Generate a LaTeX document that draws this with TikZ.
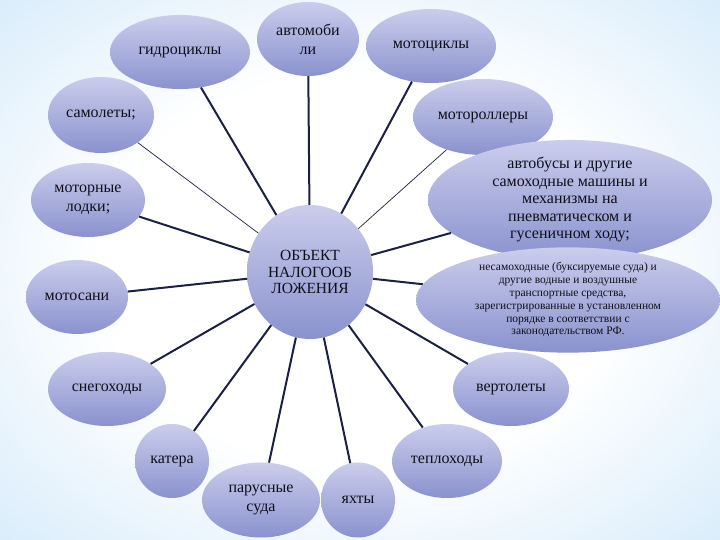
\documentclass[tikz,border=0pt]{standalone}
\usepackage{fontspec}
\setmainfont{Liberation Serif}
\newfontfamily\russerif{Liberation Serif}
\usetikzlibrary{shapes.geometric}
\definecolor{bgblue}{RGB}{155,207,243}
\definecolor{bgmid}{RGB}{208,232,250}
\definecolor{elltop}{RGB}{202,205,236}
\definecolor{ellbot}{RGB}{138,146,206}
\definecolor{linecol}{RGB}{28,32,66}
\definecolor{txtcol}{RGB}{15,15,25}
\pgfdeclareradialshading{bgglow}{\pgfpoint{0bp}{0bp}}{color(0bp)=(white); color(18bp)=(white); color(40bp)=(bgmid); color(58bp)=(bgblue); color(72bp)=(bgblue)}
\tikzset{
  bubble/.style={ellipse, inner sep=0pt, top color=elltop, bottom color=ellbot, draw=none, text=txtcol, align=center, font=\russerif\fontsize{16}{19}\selectfont},
  thickline/.style={draw=linecol, line width=2pt},
  thinline/.style={draw=linecol, line width=0.7pt}
}
\begin{document}
\begin{tikzpicture}[x=1pt,y=1pt]
\useasboundingbox (0,0) rectangle (720,540);
\shade[shading=bgglow] (0,0) rectangle (720,540);
% nodes (pixel centers, y from top)
\node[bubble, minimum width=126pt, minimum height=134pt, font=\russerif\fontsize{15.5}{16.8}\selectfont] (c) at (310,268) {ОБЪЕКТ\\НАЛОГООБ\\ЛОЖЕНИЯ};
\node[bubble, minimum width=140pt, minimum height=74pt] (gidro) at (180,488) {гидроциклы};
\node[bubble, minimum width=102pt, minimum height=74pt] (avto) at (308,501) {автомоби\\ли};
\node[bubble, minimum width=130pt, minimum height=74pt] (moto) at (431,494) {мотоциклы};
\node[bubble, minimum width=106pt, minimum height=76pt] (samol) at (101,425) {самолеты;};
\node[bubble, minimum width=140pt, minimum height=76pt] (motor) at (483,423) {мотороллеры};
\node[bubble, minimum width=284pt, minimum height=90pt, font=\russerif\fontsize{16}{17.5}\selectfont] (avtob) at (570,340) {автобусы и другие\\самоходные машины и\\механизмы на\\пневматическом и\\гусеничном ходу;};
\node[bubble, minimum width=114pt, minimum height=74pt] (lodki) at (88,340) {моторные\\лодки;};
\node[bubble, minimum width=102pt, minimum height=74pt] (sani) at (77,243) {мотосани};
\node[bubble, minimum width=304pt, minimum height=80pt, font=\russerif\fontsize{11.5}{12.8}\selectfont] (nesam) at (568,240) {несамоходные (буксируемые суда) и\\другие водные и воздушные\\транспортные средства,\\зарегистрированные в установленном\\порядке в соответствии с\\законодательством РФ.};
\node[bubble, minimum width=118pt, minimum height=74pt] (sneg) at (107,151) {снегоходы};
\node[bubble, minimum width=116pt, minimum height=74pt] (vert) at (511,151) {вертолеты};
\node[bubble, minimum width=74pt, minimum height=74pt] (kater) at (172,79) {катера};
\node[bubble, minimum width=110pt, minimum height=74pt] (tepl) at (447,79) {теплоходы};
\node[bubble, minimum width=118pt, minimum height=75pt] (parus) at (261,40) {парусные\\суда};
\node[bubble, minimum width=74pt, minimum height=75pt] (yaht) at (358,40) {яхты};
% connectors
\draw[thickline] (c) -- (gidro);
\draw[thickline] (c) -- (avto);
\draw[thickline] (c) -- (moto);
\draw[thinline] (c) -- (samol);
\draw[thinline] (c) -- (motor);
\draw[thickline] (c) -- (avtob);
\draw[thickline] (c) -- (lodki);
\draw[thickline] (c) -- (sani);
\draw[thickline] (c) -- (nesam);
\draw[thickline] (c) -- (sneg);
\draw[thickline] (c) -- (vert);
\draw[thickline] (c) -- (kater);
\draw[thickline] (c) -- (tepl);
\draw[thickline] (c) -- (parus);
\draw[thickline] (c) -- (yaht);
\end{tikzpicture}
\end{document}
